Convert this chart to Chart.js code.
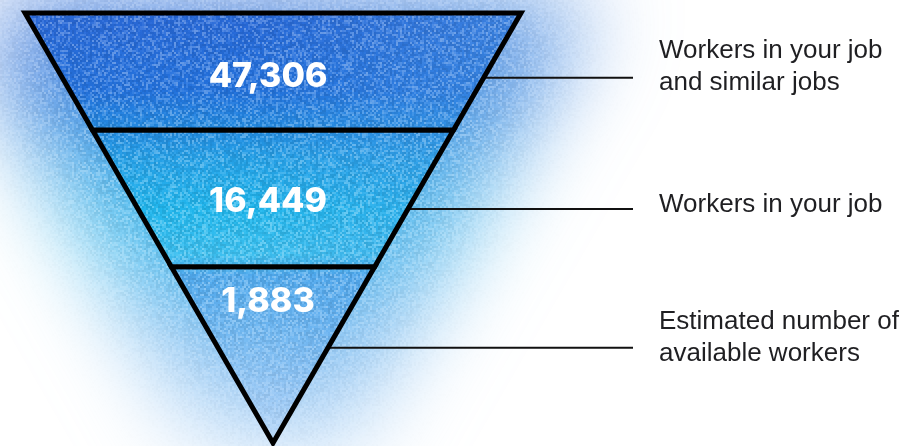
<!DOCTYPE html>
<html><head><meta charset="utf-8">
<script src="https://cdn.jsdelivr.net/npm/chart.js@4.4.1/dist/chart.umd.min.js"></script>
<style>html,body{margin:0;padding:0;background:#fff;overflow:hidden}#wrap{width:924px;height:446px;position:relative}canvas{display:block}</style>
</head><body><div id="wrap"><canvas id="c" width="924" height="446"></canvas></div>
<script>
// ---------------- data ----------------
const stageLabels = [
  ["Workers in your job", "and similar jobs"],
  ["Workers in your job"],
  ["Estimated number of", "available workers"]
];
const stageValues = [47306, 16449, 1883];

// ---------------- layout (funnel depth units: 1 = top rim, 0 = apex; half-width = depth) ----------------
const layout = {
  edges: [1, 0.728, 0.410, 0],
  valueAt: [0.851, 0.560, 0.328],
  valueX: -0.02,
  leaderAt: [0.8495, 0.544, 0.2216],
  leaderEnd: 1.4516,
  labelAt: [0.8756, 0.5547, 0.2453],
  labelX: 1.5565,
  xMin: -1.1008, xMax: 2.625,
  yMin: -0.00698, yMax: 1.0302
};

// ---------------- texture helpers (decoration only) ----------------
function mulberry32(a){return function(){a|=0;a=a+0x6D2B79F5|0;let t=Math.imul(a^a>>>15,1|a);t=t+Math.imul(t^t>>>7,61|t)^t;return((t^t>>>14)>>>0)/4294967296;}}
function addGrain(cnv, seed, up, down){
  const c = cnv.getContext('2d'); const W = cnv.width, H = cnv.height;
  const img = c.getImageData(0,0,W,H); const d = img.data; const rnd = mulberry32(seed);
  const bw = Math.ceil(W/2), bh = Math.ceil(H/2); const g = new Float32Array(bw*bh);
  for (let i=0;i<g.length;i++) g[i] = rnd()*2-1;
  for (let y=0;y<H;y++) for (let x=0;x<W;x++){
    const i=(y*W+x)*4; const r=d[i], gg=d[i+1], b=d[i+2];
    const s = Math.min((Math.max(r,gg,b)-Math.min(r,gg,b))/150, 1);
    const n = g[(y>>1)*bw+(x>>1)];
    const t = (n > 0 ? n*up : n*down) * s;
    for (let k=0;k<3;k++){ const v=d[i+k]; d[i+k] = t>0 ? v+(255-v)*t : v*(1+t); }
  }
  c.putImageData(img,0,0);
}
let paintPattern = null, glowCanvas = null;
function buildTextures(chart){
  if (paintPattern) return;
  const xs = chart.scales.x, ys = chart.scales.y;
  if (!xs || !ys) return;
  const W = chart.width, H = chart.height;
  const T = ys.getPixelForValue(1), A = ys.getPixelForValue(0), ax = xs.getPixelForValue(0);
  const w = xs.getPixelForValue(1) - ax;
  if (![T, A, ax, w].every(Number.isFinite)) return;
  const paint = document.createElement('canvas'); paint.width = W; paint.height = H;
  const p = paint.getContext('2d');
  const vg = p.createLinearGradient(0, T, 0, A);
  [[0,'rgb(40,104,216)'],[0.18,'rgb(34,114,222)'],[0.272,'rgb(34,140,226)'],[0.342,'rgb(36,162,232)'],
   [0.458,'rgb(32,184,238)'],[0.563,'rgb(60,192,240)'],[0.61,'rgb(80,170,238)'],[0.737,'rgb(112,184,242)'],
   [0.9,'rgb(160,204,246)'],[1,'rgb(194,222,250)']]
   .forEach(s=>vg.addColorStop(s[0], s[1]));
  p.fillStyle = vg; p.fillRect(0,0,W,H);
  const hg = p.createLinearGradient(ax - w, 0, ax + w, 0);
  hg.addColorStop(0, 'rgba(80,110,215,0.06)');
  hg.addColorStop(0.45, 'rgba(70,150,230,0)');
  hg.addColorStop(1, 'rgba(85,162,236,0.45)');
  p.fillStyle = hg; p.fillRect(0,0,W,H);
  const tmp = document.createElement('canvas'); tmp.width = W; tmp.height = H;
  const t = tmp.getContext('2d');
  const k = w/(A-T), e = 54, sh = e*Math.sqrt(1+k*k);
  const A2 = A + sh/k, T2 = T - e, hw = (A2 - T2)*k;
  t.beginPath(); t.moveTo(ax-hw, T2); t.lineTo(ax+hw, T2); t.lineTo(ax, A2); t.closePath();
  t.fillStyle = t.createPattern(paint, 'no-repeat'); t.fill();
  glowCanvas = document.createElement('canvas'); glowCanvas.width = W; glowCanvas.height = H;
  const g = glowCanvas.getContext('2d');
  g.fillStyle = '#fff'; g.fillRect(0,0,W,H);
  g.filter = 'blur(48px)'; g.globalAlpha = 0.88; g.drawImage(tmp, 0, 0);
  g.filter = 'none'; g.globalAlpha = 1;
  addGrain(glowCanvas, 7, 0.32, 0.08);
  addGrain(paint, 11, 0.3, 0.1);
  paintPattern = chart.ctx.createPattern(paint, 'no-repeat');
}

// ---------------- datasets ----------------
const bandSets = stageValues.map((v, i) => {
  const top = layout.edges[i], bot = layout.edges[i+1];
  const pts = [{x:0,y:top},{x:top,y:top}];
  if (bot > 0) { pts.push({x:bot,y:bot},{x:-bot,y:bot}); } else { pts.push({x:0,y:0}); }
  pts.push({x:-top,y:top},{x:0,y:top});
  return {
    label: stageLabels[i].join(' '), data: pts, showLine: true, fill: 'shape',
    backgroundColor: () => paintPattern || 'rgba(60,140,225,1)',
    borderColor: '#000', borderWidth: 5, borderJoinStyle: 'miter', borderCapStyle: 'butt',
    pointRadius: 0, pointHoverRadius: 0, tension: 0
  };
});
const leaderSets = layout.leaderAt.map((lv, i) => ({
  label: 'leader ' + i, data: [{x:lv, y:lv},{x:layout.leaderEnd, y:lv}], showLine: true, fill: false,
  borderColor: '#111', borderWidth: 2, pointRadius: 0, pointHoverRadius: 0, tension: 0
}));

const decor = {
  id: 'decor',
  afterLayout(chart){ buildTextures(chart); },
  beforeDraw(chart){
    buildTextures(chart);
    if (!glowCanvas) return;
    const ctx = chart.ctx; ctx.save(); ctx.drawImage(glowCanvas, 0, 0); ctx.restore();
  },
  afterDraw(chart){
    const ctx = chart.ctx, xs = chart.scales.x, ys = chart.scales.y;
    ctx.save();
    ctx.font = '800 34px Inter, "Liberation Sans", Arial, sans-serif';
    ctx.fillStyle = '#fff'; ctx.textAlign = 'center'; ctx.textBaseline = 'middle';
    stageValues.forEach((v, i) => ctx.fillText(v.toLocaleString('en-US'),
      xs.getPixelForValue(layout.valueX), ys.getPixelForValue(layout.valueAt[i])));
    ctx.font = '26px "Liberation Sans", Arial, sans-serif';
    ctx.fillStyle = '#1f1f22'; ctx.textAlign = 'left';
    stageLabels.forEach((lines, i) => {
      const cy = ys.getPixelForValue(layout.labelAt[i]);
      lines.forEach((ln, j) => ctx.fillText(ln, xs.getPixelForValue(layout.labelX), cy + (j - (lines.length-1)/2)*32));
    });
    ctx.restore();
  }
};

new Chart(document.getElementById('c'), {
  type: 'scatter',
  data: { datasets: [...bandSets, ...leaderSets] },
  options: {
    responsive: false, animation: false, devicePixelRatio: 1,
    layout: { padding: 0 },
    plugins: { legend: { display: false }, tooltip: { enabled: false }, filler: { drawTime: 'beforeDatasetDraw' } },
    events: [],
    scales: {
      x: { type: 'linear', min: layout.xMin, max: layout.xMax, display: false },
      y: { type: 'linear', min: layout.yMin, max: layout.yMax, display: false }
    }
  },
  plugins: [decor]
});
</script>
</body></html>
